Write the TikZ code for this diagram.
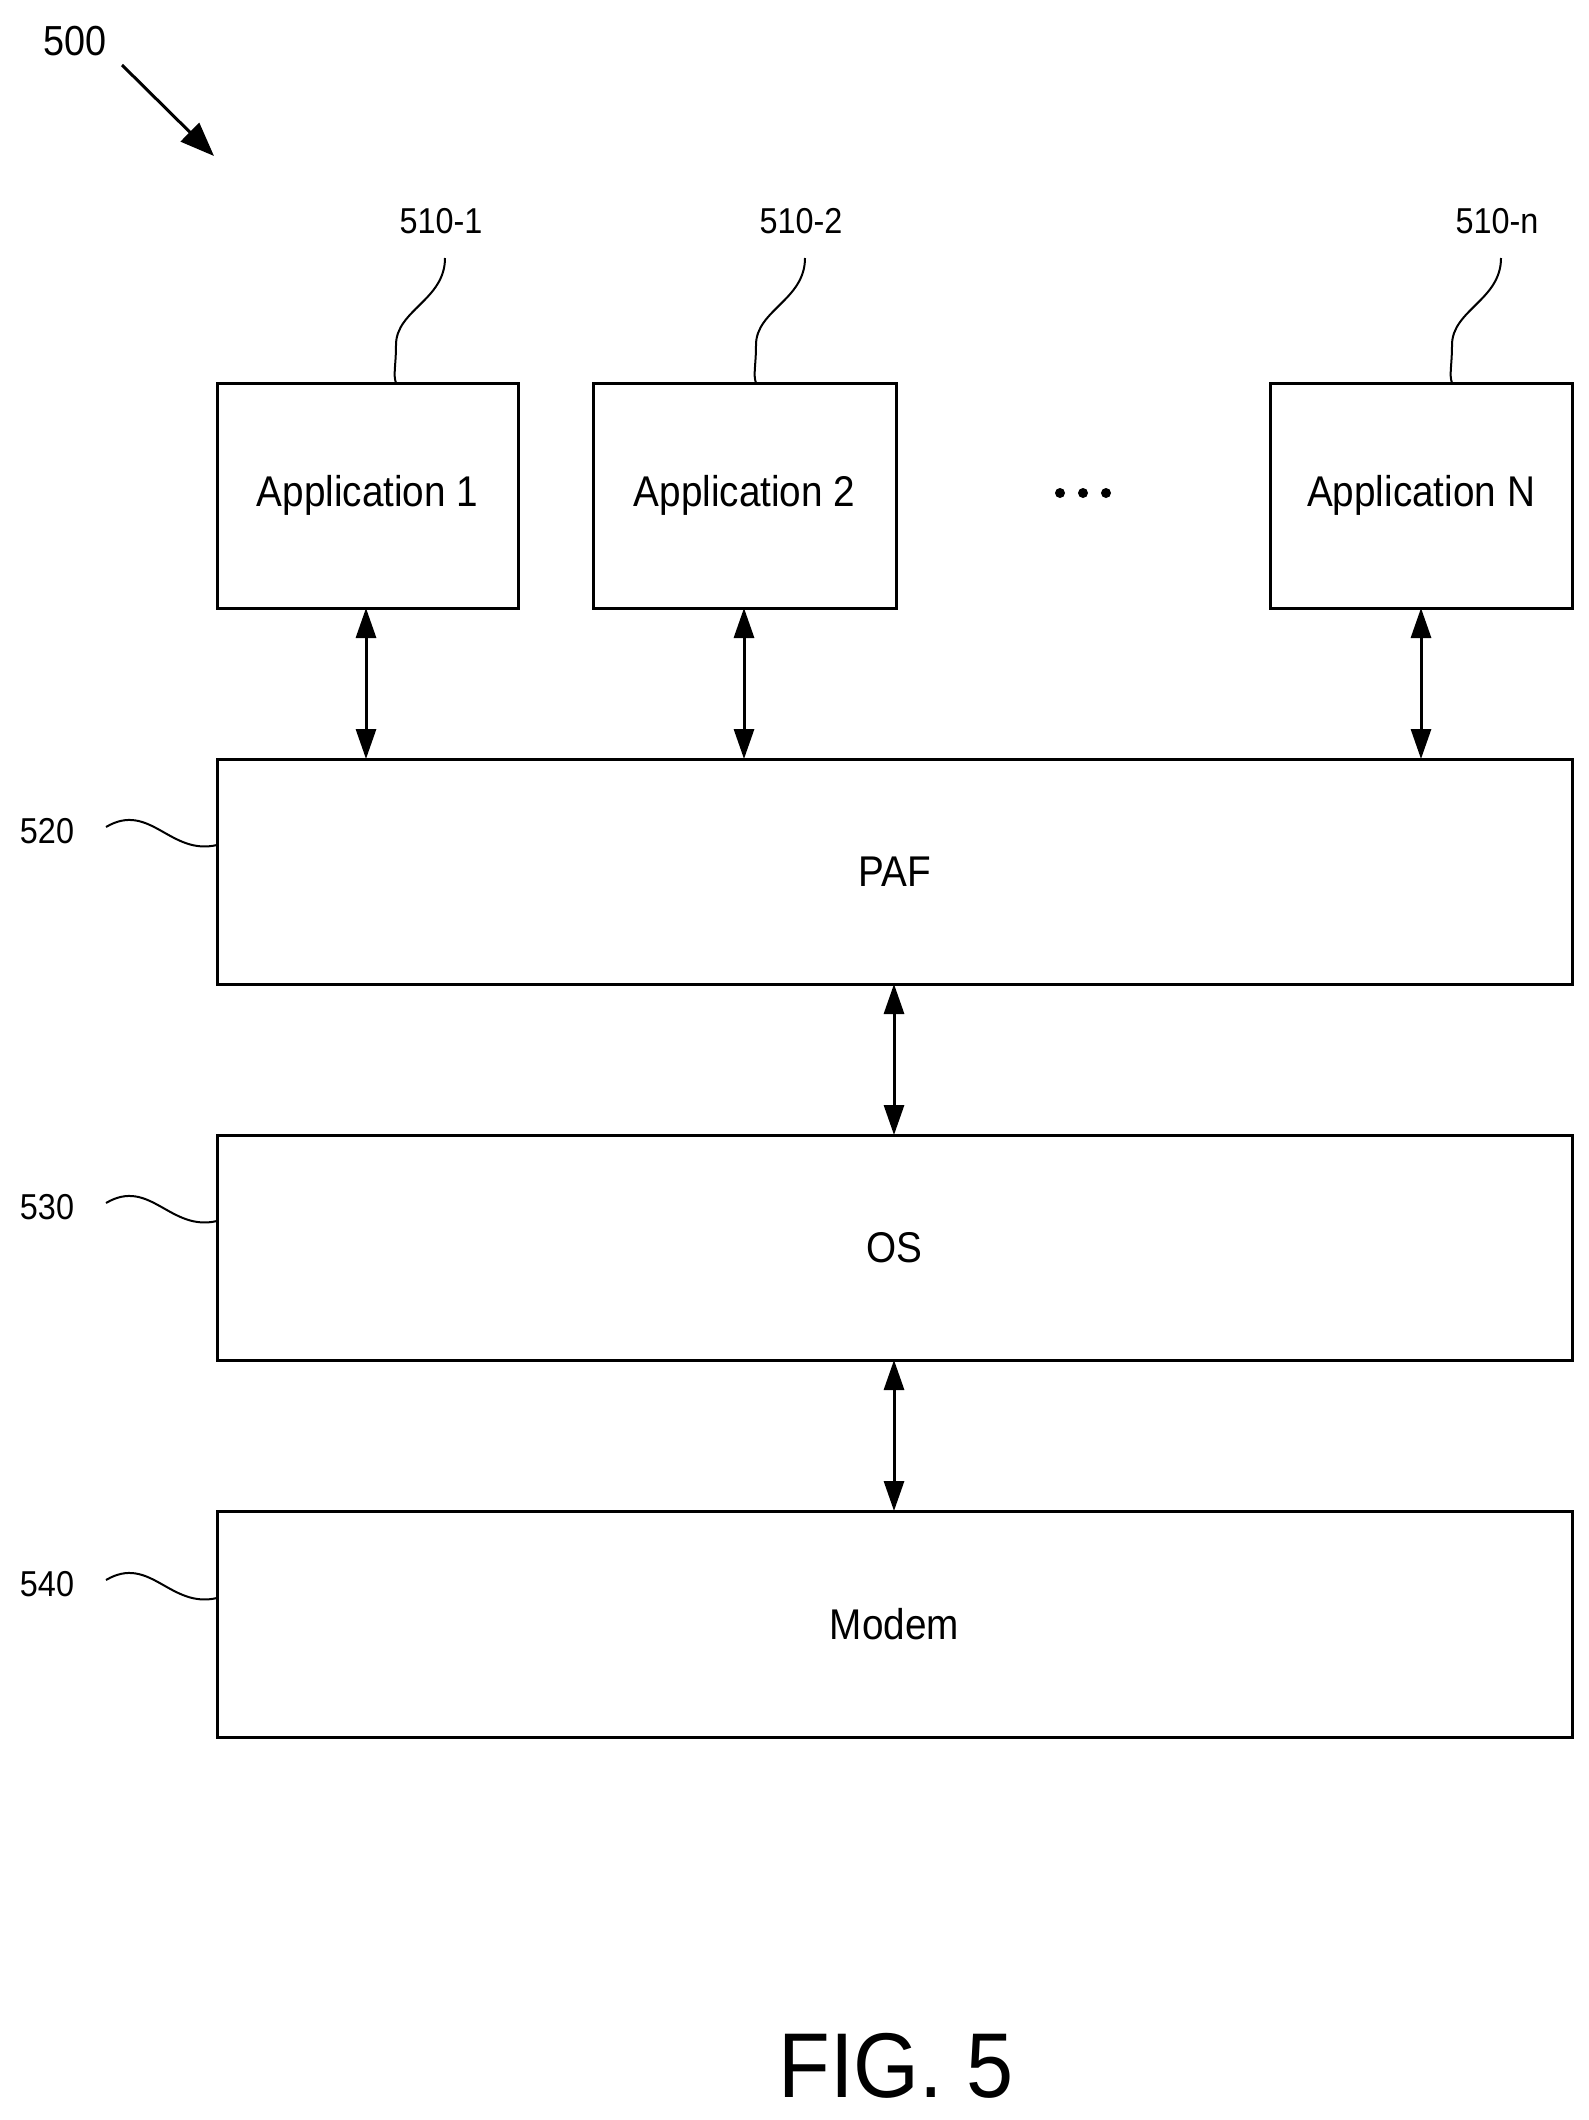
\documentclass[tikz,border=0pt]{standalone}
\usepackage{fontspec}
\setmainfont{Liberation Sans}
\usetikzlibrary{arrows.meta}
\begin{document}
\begin{tikzpicture}[x=1pt,y=-1pt,line width=3pt,
 box/.style={draw,rectangle,inner sep=0},
 txt/.style={font=\fontsize{43}{48}\selectfont,xscale=0.9},
 lbl/.style={font=\fontsize{36}{40}\selectfont,xscale=0.9},
 dbl/.style={{Triangle[length=30pt,width=20pt]}-{Triangle[length=30pt,width=20pt]}}]
\useasboundingbox (0,0) rectangle (1588,2120);
\node[box,minimum width=301pt,minimum height=225pt] (a1) at (367.5,495.5) {};
\node[txt] at (a1) {Application 1};
\node[box,minimum width=303pt,minimum height=225pt] (a2) at (744.5,495.5) {};
\node[txt] at (a2) {Application 2};
\node[box,minimum width=302pt,minimum height=225pt] (an) at (1421,495.5) {};
\node[txt] at (an) {Application N};
\foreach \x in {1060,1083,1106} \fill (\x,493) circle (5pt);
\node[box,minimum width=1355pt,minimum height=225pt] (paf) at (894.5,871.5) {};
\node[txt] at (paf) {PAF};
\node[box,minimum width=1355pt,minimum height=225pt] (os) at (894.5,1247.5) {};
\node[txt] at (os) {OS};
\node[box,minimum width=1355pt,minimum height=226pt] (mod) at (894.5,1624) {};
\node[txt] at (mod) {Modem};
\draw[dbl] (366,608) -- (366,759);
\draw[dbl] (744,608) -- (744,759);
\draw[dbl] (1421,608) -- (1421,759);
\draw[dbl] (894,984) -- (894,1135);
\draw[dbl] (894,1360) -- (894,1511);
\node[lbl] (l1) at (441,221) {510-1};
\node[lbl] (l2) at (801,221) {510-2};
\node[lbl] (ln) at (1497,221) {510-n};
\foreach \x in {441,801,1497}
 \draw[line width=2pt] (\x+4,258) .. controls (\x+4,300) and (\x-45,310) .. (\x-45,345) .. controls (\x-45,365) and (\x-48,375) .. (\x-45,383);
\node[lbl] (l520) at (47,831) {520};
\node[lbl] (l530) at (47,1207) {530};
\node[lbl] (l540) at (47,1584) {540};
\foreach \y in {831,1207,1584}
 \draw[line width=2pt] (106,\y-4) .. controls (150,\y-30) and (170,\y+25) .. (217,\y+14);
\node[font=\fontsize{42}{46}\selectfont,xscale=0.9] (l500) at (75,41) {500};
\coordinate (t500) at (214,156);
\draw[line width=3pt,-{Triangle[length=34pt,width=26pt]}] (122,65) -- (t500);
\node[font=\fontsize{92}{100}\selectfont,xscale=0.92] (fig) at (896,2066) {FIG. 5};
\end{tikzpicture}
\end{document}
